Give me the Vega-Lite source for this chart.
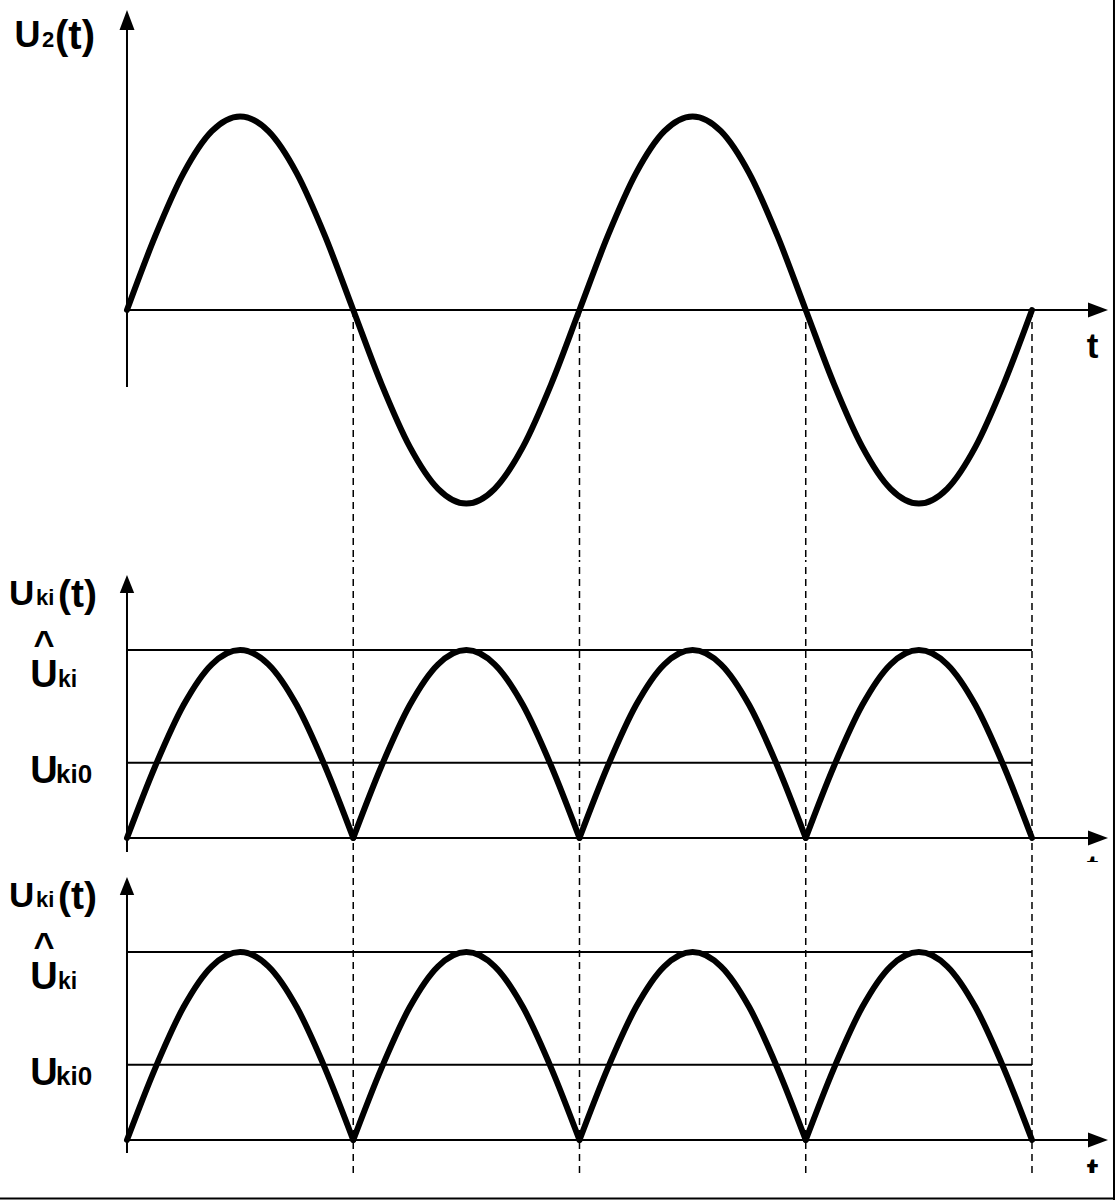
{
  "$schema": "https://vega.github.io/schema/vega-lite/v6.json",
  "padding": 0,
  "background": "white",
  "spacing": 0,
  "bounds": "flush",
  "config": {"view": {"stroke": null}},
  "datasets": {
    "sine": [
      {"t": 0, "v": 0}, {"t": 0.125, "v": 0.3827}, {"t": 0.25, "v": 0.7071}, {"t": 0.375, "v": 0.9239},
      {"t": 0.5, "v": 1}, {"t": 0.625, "v": 0.9239}, {"t": 0.75, "v": 0.7071}, {"t": 0.875, "v": 0.3827},
      {"t": 1, "v": 0}, {"t": 1.125, "v": -0.3827}, {"t": 1.25, "v": -0.7071}, {"t": 1.375, "v": -0.9239},
      {"t": 1.5, "v": -1}, {"t": 1.625, "v": -0.9239}, {"t": 1.75, "v": -0.7071}, {"t": 1.875, "v": -0.3827},
      {"t": 2, "v": 0}, {"t": 2.125, "v": 0.3827}, {"t": 2.25, "v": 0.7071}, {"t": 2.375, "v": 0.9239},
      {"t": 2.5, "v": 1}, {"t": 2.625, "v": 0.9239}, {"t": 2.75, "v": 0.7071}, {"t": 2.875, "v": 0.3827},
      {"t": 3, "v": 0}, {"t": 3.125, "v": -0.3827}, {"t": 3.25, "v": -0.7071}, {"t": 3.375, "v": -0.9239},
      {"t": 3.5, "v": -1}, {"t": 3.625, "v": -0.9239}, {"t": 3.75, "v": -0.7071}, {"t": 3.875, "v": -0.3827},
      {"t": 4, "v": 0}
    ],
    "rect": [
      {"arch": 0, "t": 0, "v": 0}, {"arch": 0, "t": 0.125, "v": 0.3827}, {"arch": 0, "t": 0.25, "v": 0.7071}, {"arch": 0, "t": 0.375, "v": 0.9239},
      {"arch": 0, "t": 0.5, "v": 1}, {"arch": 0, "t": 0.625, "v": 0.9239}, {"arch": 0, "t": 0.75, "v": 0.7071}, {"arch": 0, "t": 0.875, "v": 0.3827}, {"arch": 0, "t": 1, "v": 0},
      {"arch": 1, "t": 1, "v": 0}, {"arch": 1, "t": 1.125, "v": 0.3827}, {"arch": 1, "t": 1.25, "v": 0.7071}, {"arch": 1, "t": 1.375, "v": 0.9239},
      {"arch": 1, "t": 1.5, "v": 1}, {"arch": 1, "t": 1.625, "v": 0.9239}, {"arch": 1, "t": 1.75, "v": 0.7071}, {"arch": 1, "t": 1.875, "v": 0.3827}, {"arch": 1, "t": 2, "v": 0},
      {"arch": 2, "t": 2, "v": 0}, {"arch": 2, "t": 2.125, "v": 0.3827}, {"arch": 2, "t": 2.25, "v": 0.7071}, {"arch": 2, "t": 2.375, "v": 0.9239},
      {"arch": 2, "t": 2.5, "v": 1}, {"arch": 2, "t": 2.625, "v": 0.9239}, {"arch": 2, "t": 2.75, "v": 0.7071}, {"arch": 2, "t": 2.875, "v": 0.3827}, {"arch": 2, "t": 3, "v": 0},
      {"arch": 3, "t": 3, "v": 0}, {"arch": 3, "t": 3.125, "v": 0.3827}, {"arch": 3, "t": 3.25, "v": 0.7071}, {"arch": 3, "t": 3.375, "v": 0.9239},
      {"arch": 3, "t": 3.5, "v": 1}, {"arch": 3, "t": 3.625, "v": 0.9239}, {"arch": 3, "t": 3.75, "v": 0.7071}, {"arch": 3, "t": 3.875, "v": 0.3827}, {"arch": 3, "t": 4, "v": 0}
    ]
  },
  "vconcat": [
    {
      "width": 1115,
      "height": 560,
      "encoding": {
        "x": {"field": "t", "type": "quantitative", "scale": {"domain": [-0.5613, 4.3669], "nice": false, "zero": false}, "axis": null},
        "y": {"field": "v", "type": "quantitative", "scale": {"domain": [-1.292, 1.6021], "nice": false, "zero": false}, "axis": null}
      },
      "layer": [
        {
          "data": {"values": [{"t": 1, "v": 0, "v2": -1.292}, {"t": 2, "v": 0, "v2": -1.292}, {"t": 3, "v": 0, "v2": -1.292}, {"t": 4, "v": 0, "v2": -1.292}]},
          "mark": {"type": "rule", "color": "black", "strokeWidth": 1.5, "strokeDash": [7, 5], "clip": true},
          "encoding": {"y2": {"field": "v2"}}
        },
        {
          "data": {"values": [
            {"t": 0, "v": 0, "t2": 4.32, "v2": 0},
            {"t": 0, "v": -0.398, "t2": 0, "v2": 1.5},
            {"t": 4.3624, "v": -1.292, "t2": 4.3624, "v2": 1.6021}
          ]},
          "mark": {"type": "rule", "color": "black", "strokeWidth": 2, "clip": true},
          "encoding": {"x2": {"field": "t2"}, "y2": {"field": "v2"}}
        },
        {
          "data": {"values": [{"t": 4.3359, "v": 0}]},
          "mark": {"type": "point", "shape": "M0,0L-1,-0.375L-1,0.375Z", "size": 1600, "filled": true, "color": "black", "opacity": 1, "strokeWidth": 0}
        },
        {
          "data": {"values": [{"t": 0, "v": 1.5504}]},
          "mark": {"type": "point", "shape": "M0,0L-0.375,1L0.375,1Z", "size": 1600, "filled": true, "color": "black", "opacity": 1, "strokeWidth": 0}
        },
        {
          "data": {"name": "sine"},
          "mark": {"type": "line", "color": "black", "strokeWidth": 6, "interpolate": "monotone", "strokeCap": "round"}
        },
        {
          "data": {"values": [{"t": -0.4973, "v": 1.3592, "label": "U"}]},
          "mark": {"type": "text", "font": "Liberation Sans", "fontWeight": "bold", "fontSize": 36, "align": "left", "baseline": "alphabetic", "color": "black"},
          "encoding": {"text": {"field": "label"}}
        },
        {
          "data": {"values": [{"t": -0.3757, "v": 1.3592, "label": "2"}]},
          "mark": {"type": "text", "font": "Liberation Sans", "fontWeight": "bold", "fontSize": 22, "align": "left", "baseline": "alphabetic", "color": "black"},
          "encoding": {"text": {"field": "label"}}
        },
        {
          "data": {"values": [{"t": -0.3182, "v": 1.351, "label": "(t)"}]},
          "mark": {"type": "text", "font": "Liberation Sans", "fontWeight": "bold", "fontSize": 40, "align": "left", "baseline": "alphabetic", "color": "black"},
          "encoding": {"text": {"field": "label"}}
        },
        {
          "data": {"values": [{"t": 4.2674, "v": -0.248, "label": "t"}]},
          "mark": {"type": "text", "font": "Liberation Sans", "fontWeight": "bold", "fontSize": 35, "align": "center", "baseline": "alphabetic", "color": "black"},
          "encoding": {"text": {"field": "label"}}
        }
      ]
    },
    {
      "width": 1115,
      "height": 302,
      "encoding": {
        "x": {"field": "t", "type": "quantitative", "scale": {"domain": [-0.5613, 4.3669], "nice": false, "zero": false}, "axis": null},
        "y": {"field": "v", "type": "quantitative", "scale": {"domain": [-0.1277, 1.4787], "nice": false, "zero": false}, "axis": null}
      },
      "layer": [
        {
          "data": {"values": [{"t": 1, "v": -0.1277, "v2": 1.4787}, {"t": 2, "v": -0.1277, "v2": 1.4787}, {"t": 3, "v": -0.1277, "v2": 1.4787}, {"t": 4, "v": -0.1277, "v2": 1.4787}]},
          "mark": {"type": "rule", "color": "black", "strokeWidth": 1.5, "strokeDash": [7, 5], "clip": true},
          "encoding": {"y2": {"field": "v2"}}
        },
        {
          "data": {"values": [
            {"t": 0, "v": 0, "t2": 4.32, "v2": 0},
            {"t": 0, "v": 1, "t2": 4, "v2": 1},
            {"t": 0, "v": 0.4, "t2": 4, "v2": 0.4},
            {"t": 0, "v": -0.0745, "t2": 0, "v2": 1.35},
            {"t": 4.3624, "v": -0.1277, "t2": 4.3624, "v2": 1.4787}
          ]},
          "mark": {"type": "rule", "color": "black", "strokeWidth": 2, "clip": true},
          "encoding": {"x2": {"field": "t2"}, "y2": {"field": "v2"}}
        },
        {
          "data": {"values": [{"t": 4.3359, "v": 0}]},
          "mark": {"type": "point", "shape": "M0,0L-1,-0.375L-1,0.375Z", "size": 1600, "filled": true, "color": "black", "opacity": 1, "strokeWidth": 0}
        },
        {
          "data": {"values": [{"t": 0, "v": 1.399}]},
          "mark": {"type": "point", "shape": "M0,0L-0.4,1L0.4,1Z", "size": 1296, "filled": true, "color": "black", "opacity": 1, "strokeWidth": 0}
        },
        {
          "data": {"name": "rect"},
          "mark": {"type": "line", "color": "black", "strokeWidth": 6, "interpolate": "monotone", "strokeCap": "round"},
          "encoding": {"detail": {"field": "arch"}}
        },
        {
          "data": {"values": [{"t": -0.5215, "v": 1.2394, "label": "U"}]},
          "mark": {"type": "text", "font": "Liberation Sans", "fontWeight": "bold", "fontSize": 35, "align": "left", "baseline": "alphabetic", "color": "black"},
          "encoding": {"text": {"field": "label"}}
        },
        {
          "data": {"values": [{"t": -0.4022, "v": 1.2394, "label": "ki"}]},
          "mark": {"type": "text", "font": "Liberation Sans", "fontWeight": "bold", "fontSize": 22, "align": "left", "baseline": "alphabetic", "color": "black"},
          "encoding": {"text": {"field": "label"}}
        },
        {
          "data": {"values": [{"t": -0.305, "v": 1.2298, "label": "(t)"}]},
          "mark": {"type": "text", "font": "Liberation Sans", "fontWeight": "bold", "fontSize": 39, "align": "left", "baseline": "alphabetic", "color": "black"},
          "encoding": {"text": {"field": "label"}}
        },
        {
          "data": {"values": [{"t": -0.3668, "v": 0.9681, "label": "^"}]},
          "mark": {"type": "text", "font": "Liberation Sans", "fontWeight": "bold", "fontSize": 36, "align": "center", "baseline": "alphabetic", "color": "black"},
          "encoding": {"text": {"field": "label"}}
        },
        {
          "data": {"values": [{"t": -0.4278, "v": 0.8032, "label": "U"}, {"t": -0.4278, "v": 0.2926, "label": "U"}]},
          "mark": {"type": "text", "font": "Liberation Sans", "fontWeight": "bold", "fontSize": 38, "align": "left", "baseline": "alphabetic", "color": "black"},
          "encoding": {"text": {"field": "label"}}
        },
        {
          "data": {"values": [{"t": -0.305, "v": 0.8032, "label": "ki"}]},
          "mark": {"type": "text", "font": "Liberation Sans", "fontWeight": "bold", "fontSize": 23, "align": "left", "baseline": "alphabetic", "color": "black"},
          "encoding": {"text": {"field": "label"}}
        },
        {
          "data": {"values": [{"t": -0.3138, "v": 0.2926, "label": "ki0"}]},
          "mark": {"type": "text", "font": "Liberation Sans", "fontWeight": "bold", "fontSize": 26, "align": "left", "baseline": "alphabetic", "color": "black"},
          "encoding": {"text": {"field": "label"}}
        },
        {
          "data": {"values": [{"t": 4.2674, "v": -0.2234, "label": "t"}]},
          "mark": {"type": "text", "font": "Liberation Sans", "fontWeight": "bold", "fontSize": 35, "align": "center", "baseline": "alphabetic", "color": "black", "clip": true},
          "encoding": {"text": {"field": "label"}}
        }
      ]
    },
    {
      "width": 1115,
      "height": 311,
      "encoding": {
        "x": {"field": "t", "type": "quantitative", "scale": {"domain": [-0.5613, 4.3669], "nice": false, "zero": false}, "axis": null},
        "y": {"field": "v", "type": "quantitative", "scale": {"domain": [-0.1755, 1.4787], "nice": false, "zero": false}, "axis": null}
      },
      "layer": [
        {
          "data": {"values": [{"t": 1, "v": -0.1755, "v2": 1.4787}, {"t": 2, "v": -0.1755, "v2": 1.4787}, {"t": 3, "v": -0.1755, "v2": 1.4787}, {"t": 4, "v": -0.1755, "v2": 1.4787}]},
          "mark": {"type": "rule", "color": "black", "strokeWidth": 1.5, "strokeDash": [7, 5], "clip": true},
          "encoding": {"y2": {"field": "v2"}}
        },
        {
          "data": {"values": [
            {"t": 0, "v": 0, "t2": 4.32, "v2": 0},
            {"t": 0, "v": 1, "t2": 4, "v2": 1},
            {"t": 0, "v": 0.4, "t2": 4, "v2": 0.4},
            {"t": 0, "v": -0.069, "t2": 0, "v2": 1.35},
            {"t": 4.3624, "v": -0.1755, "t2": 4.3624, "v2": 1.4787}
          ]},
          "mark": {"type": "rule", "color": "black", "strokeWidth": 2, "clip": true},
          "encoding": {"x2": {"field": "t2"}, "y2": {"field": "v2"}}
        },
        {
          "data": {"values": [{"t": 4.3359, "v": 0}]},
          "mark": {"type": "point", "shape": "M0,0L-1,-0.375L-1,0.375Z", "size": 1600, "filled": true, "color": "black", "opacity": 1, "strokeWidth": 0}
        },
        {
          "data": {"values": [{"t": 0, "v": 1.399}]},
          "mark": {"type": "point", "shape": "M0,0L-0.4,1L0.4,1Z", "size": 1296, "filled": true, "color": "black", "opacity": 1, "strokeWidth": 0}
        },
        {
          "data": {"name": "rect"},
          "mark": {"type": "line", "color": "black", "strokeWidth": 6, "interpolate": "monotone", "strokeCap": "round"},
          "encoding": {"detail": {"field": "arch"}}
        },
        {
          "data": {"values": [{"t": -0.5215, "v": 1.2394, "label": "U"}]},
          "mark": {"type": "text", "font": "Liberation Sans", "fontWeight": "bold", "fontSize": 35, "align": "left", "baseline": "alphabetic", "color": "black"},
          "encoding": {"text": {"field": "label"}}
        },
        {
          "data": {"values": [{"t": -0.4022, "v": 1.2394, "label": "ki"}]},
          "mark": {"type": "text", "font": "Liberation Sans", "fontWeight": "bold", "fontSize": 22, "align": "left", "baseline": "alphabetic", "color": "black"},
          "encoding": {"text": {"field": "label"}}
        },
        {
          "data": {"values": [{"t": -0.305, "v": 1.2298, "label": "(t)"}]},
          "mark": {"type": "text", "font": "Liberation Sans", "fontWeight": "bold", "fontSize": 39, "align": "left", "baseline": "alphabetic", "color": "black"},
          "encoding": {"text": {"field": "label"}}
        },
        {
          "data": {"values": [{"t": -0.3668, "v": 0.9681, "label": "^"}]},
          "mark": {"type": "text", "font": "Liberation Sans", "fontWeight": "bold", "fontSize": 36, "align": "center", "baseline": "alphabetic", "color": "black"},
          "encoding": {"text": {"field": "label"}}
        },
        {
          "data": {"values": [{"t": -0.4278, "v": 0.8032, "label": "U"}, {"t": -0.4278, "v": 0.2926, "label": "U"}]},
          "mark": {"type": "text", "font": "Liberation Sans", "fontWeight": "bold", "fontSize": 38, "align": "left", "baseline": "alphabetic", "color": "black"},
          "encoding": {"text": {"field": "label"}}
        },
        {
          "data": {"values": [{"t": -0.305, "v": 0.8032, "label": "ki"}]},
          "mark": {"type": "text", "font": "Liberation Sans", "fontWeight": "bold", "fontSize": 23, "align": "left", "baseline": "alphabetic", "color": "black"},
          "encoding": {"text": {"field": "label"}}
        },
        {
          "data": {"values": [{"t": -0.3138, "v": 0.2926, "label": "ki0"}]},
          "mark": {"type": "text", "font": "Liberation Sans", "fontWeight": "bold", "fontSize": 26, "align": "left", "baseline": "alphabetic", "color": "black"},
          "encoding": {"text": {"field": "label"}}
        },
        {
          "data": {"values": [{"t": 4.2674, "v": -0.2287, "label": "t"}]},
          "mark": {"type": "text", "font": "Liberation Sans", "fontWeight": "bold", "fontSize": 35, "align": "center", "baseline": "alphabetic", "color": "black", "clip": true},
          "encoding": {"text": {"field": "label"}}
        }
      ]
    },
    {
      "width": 1115,
      "height": 27,
      "encoding": {
        "x": {"field": "t", "type": "quantitative", "scale": {"domain": [-0.5613, 4.3669], "nice": false, "zero": false}, "axis": null},
        "y": {"field": "v", "type": "quantitative", "scale": {"domain": [0, 1], "nice": false, "zero": false}, "axis": null}
      },
      "layer": [
        {
          "data": {"values": [
            {"t": 4.3624, "v": 0, "t2": 4.3624, "v2": 1},
            {"t": -0.5613, "v": 0.0556, "t2": 4.3669, "v2": 0.0556}
          ]},
          "mark": {"type": "rule", "color": "black", "strokeWidth": 2, "clip": true},
          "encoding": {"x2": {"field": "t2"}, "y2": {"field": "v2"}}
        }
      ]
    }
  ]
}
